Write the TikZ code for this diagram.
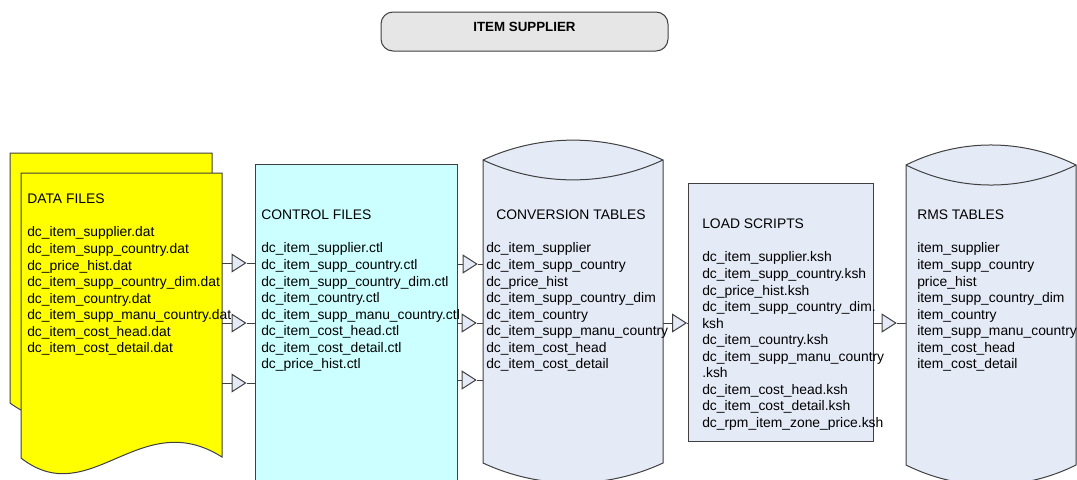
\documentclass[tikz,border=0pt]{standalone}
\usepackage{fontspec}
\setmainfont{Liberation Sans}
\usetikzlibrary{arrows.meta,fit,calc}
\definecolor{docyellow}{RGB}{255,255,0}
\definecolor{ctlcyan}{RGB}{204,255,255}
\definecolor{tblblue}{RGB}{228,234,246}
\definecolor{titlegray}{RGB}{230,230,230}
\definecolor{edge}{RGB}{64,64,64}
% connector: line, open triangle, short line into the target
\newcommand\flowlink[4]{%
  \coordinate (lkend) at (#2.west |- 0,#3);
  \coordinate (lktip) at ($(lkend)+(-#4,0)$);
  \draw[link,flowtip] (#1.east |- 0,#3) -- (lktip);
  \draw[link] (lktip) -- (lkend);}
\begin{document}
\begin{tikzpicture}[x=0.75pt,y=-0.75pt,
  outline/.style={draw=edge,line width=0.75pt},
  box/.style={outline,inner sep=0pt},
  hidden/.style={inner sep=0pt,draw=none},
  % text blocks are placed by the baseline of their last line
  listtext/.style={anchor=base west,align=left,inner sep=0pt,
    font=\fontsize{10.4}{12.4}\selectfont,text=black},
  link/.style={draw=edge,line width=0.75pt},
  flowtip/.style={-{Triangle[length=11.25pt,width=14.25pt,fill=tblblue]}}
]
\path[use as bounding box] (0,0) rectangle (1077,479);
\clip (0,0) rectangle (1077,479);

% title
\node[box,fill=titlegray,rounded corners=9pt,fit={(381,12)(668,51)},
  font=\bfseries\fontsize{10}{12}\selectfont] (title) {ITEM SUPPLIER};

% data files: two stacked document sheets
\path[outline,fill=docyellow] (10,153) -- (212,153) -- (212,400)
  .. controls (130,350) and (80,455) .. (10,403) -- cycle;
\path[outline,fill=docyellow] (21,173) -- (222,173) -- (222,457)
  .. controls (140,405) and (90,512) .. (21,458) -- cycle;
\node[hidden,fit={(21,173)(222,458)}] (data) {};
\node[listtext] (datatext) at (27,352.7) {DATA FILES\\[12.4pt]
  dc\_item\_supplier.dat\\
  dc\_item\_supp\_country.dat\\
  dc\_price\_hist.dat\\
  dc\_item\_supp\_country\_dim.dat\\
  dc\_item\_country.dat\\
  dc\_item\_supp\_manu\_country.dat\\
  dc\_item\_cost\_head.dat\\
  dc\_item\_cost\_detail.dat};

% control files
\node[box,fill=ctlcyan,fit={(255,164)(457,495)}] (ctl) {};
\node[listtext] (ctltext) at (261,368.7) {CONTROL FILES\\[12.4pt]
  dc\_item\_supplier.ctl\\
  dc\_item\_supp\_country.ctl\\
  dc\_item\_supp\_country\_dim.ctl\\
  dc\_item\_country.ctl\\
  dc\_item\_supp\_manu\_country.ctl\\
  dc\_item\_cost\_head.ctl\\
  dc\_item\_cost\_detail.ctl\\
  dc\_price\_hist.ctl};

% conversion tables (cylinder)
\path[outline,fill=tblblue] (483,160) -- (483,463)
  .. controls (539.9,489.5) and (606.1,489.5) .. (663,463) -- (663,160)
  .. controls (606.1,133.5) and (539.9,133.5) .. (483,160) -- cycle;
\draw[outline] (483,160) .. controls (539.9,186.5) and (606.1,186.5) .. (663,160);
\node[hidden,fit={(483,140)(663,483)}] (conv) {};
\node[listtext] (convtext) at (486,368.7) {\hspace{7.5pt}CONVERSION TABLES\\[12.4pt]
  dc\_item\_supplier\\
  dc\_item\_supp\_country\\
  dc\_price\_hist\\
  dc\_item\_supp\_country\_dim\\
  dc\_item\_country\\
  dc\_item\_supp\_manu\_country\\
  dc\_item\_cost\_head\\
  dc\_item\_cost\_detail};

% load scripts
\node[box,fill=tblblue,fit={(688,183)(873,441)}] (load) {};
\node[listtext] (loadtext) at (702,427.3) {LOAD SCRIPTS\\[12.4pt]
  dc\_item\_supplier.ksh\\
  dc\_item\_supp\_country.ksh\\
  dc\_price\_hist.ksh\\
  dc\_item\_supp\_country\_dim.\\
  ksh\\
  dc\_item\_country.ksh\\
  dc\_item\_supp\_manu\_country\\
  .ksh\\
  dc\_item\_cost\_head.ksh\\
  dc\_item\_cost\_detail.ksh\\
  dc\_rpm\_item\_zone\_price.ksh};

% RMS tables (cylinder)
\path[outline,fill=tblblue] (906,165) -- (906,465)
  .. controls (959.5,491.7) and (1022.5,491.7) .. (1076,465) -- (1076,165)
  .. controls (1022.5,138.3) and (959.5,138.3) .. (906,165) -- cycle;
\draw[outline] (906,165) .. controls (959.5,191.7) and (1022.5,191.7) .. (1076,165);
\node[hidden,fit={(906,145)(1076,485)}] (rms) {};
\node[listtext] (rmstext) at (917,368.7) {RMS TABLES\\[12.4pt]
  item\_supplier\\
  item\_supp\_country\\
  price\_hist\\
  item\_supp\_country\_dim\\
  item\_country\\
  item\_supp\_manu\_country\\
  item\_cost\_head\\
  item\_cost\_detail};

% connectors
\flowlink{data}{ctl}{263}{8}
\flowlink{data}{ctl}{323}{8}
\flowlink{data}{ctl}{383}{8}
\flowlink{ctl}{conv}{264}{5}
\flowlink{ctl}{conv}{323}{6}
\flowlink{ctl}{conv}{380}{6}
\flowlink{conv}{load}{323}{0.5}
\flowlink{load}{rms}{323}{9}
\end{tikzpicture}
\end{document}
